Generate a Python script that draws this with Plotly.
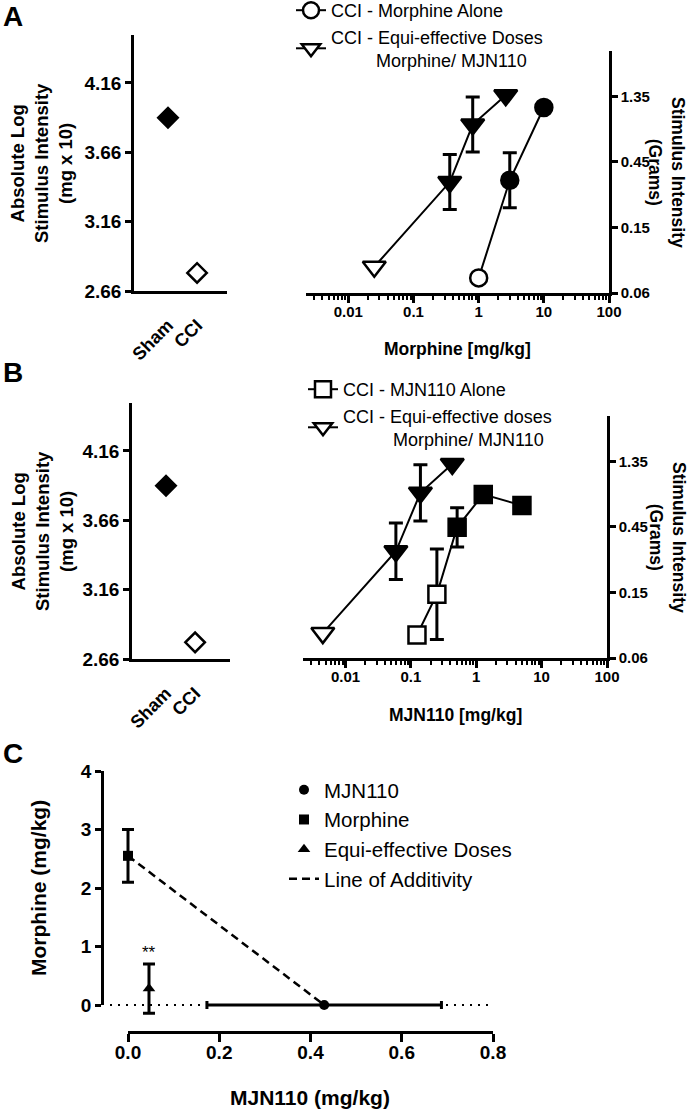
import plotly.graph_objects as go

W, H = 690, 1111

# ---------------- data ----------------
groups = ["Sham", "CCI"]
panelA_left = [3.91, 2.79]
panelB_left = [3.91, 2.78]

y_tickvals = [2.66, 3.16, 3.66, 4.16]
y_ticktext_left = ["2.66", "3.16", "3.66", "4.16"]
y_ticktext_right = ["0.06", "0.15", "0.45", "1.35"]

dose_ticks = [0.01, 0.1, 1, 10, 100]
dose_ticktext = ["0.01", "0.1", "1", "10", "100"]

A_morph_dose = [1.0, 3.0, 10.0]
A_morph_resp = [2.775, 3.52, 4.075]
A_morph_err = [None, 0.21, None]
A_morph_fill = ["white", "black", "black"]

A_equi_dose = [0.025, 0.36, 0.81, 2.6]
A_equi_resp = [2.86, 3.506, 3.945, 4.168]
A_equi_err = [None, 0.21, 0.21, None]
A_equi_fill = ["white", "black", "black", "black"]

B_mjn_dose = [0.124, 0.25, 0.51, 1.28, 5.0]
B_mjn_resp = [2.835, 3.147, 3.657, 3.908, 3.824]
B_mjn_err = [None, 0.345, 0.15, None, None]
B_mjn_fill = ["white", "white", "black", "black", "black"]

B_equi_dose = [0.0045, 0.059, 0.14, 0.43]
B_equi_resp = [2.85, 3.474, 3.92, 4.14]
B_equi_err = [None, 0.215, 0.215, None]
B_equi_fill = ["white", "black", "black", "black"]

C_mjn_x = [0.43]
C_mjn_y = [0.0]
C_mjn_xerr = [0.257]
C_morph_x = [0.0]
C_morph_y = [2.55]
C_morph_yerr = [0.45]
C_equi_x = [0.046]
C_equi_y = [0.28]
C_equi_yerr = [0.42]
C_xticks = [0.0, 0.2, 0.4, 0.6, 0.8]
C_yticks = [0, 1, 2, 3, 4]

# ---------------- helpers ----------------
FONT = "Liberation Sans, Arial, sans-serif"


def px_x(p):
    return p / W


def px_y(p):
    return 1 - p / H


def dom_x(a, b):
    return [a / W, b / W]


def dom_y(top, bottom):
    return [1 - bottom / H, 1 - top / H]


def bold(size):
    return dict(family=FONT, size=size, color="black", weight=700)


def reg(size):
    return dict(family=FONT, size=size, color="black")


AX = dict(showgrid=False, zeroline=False, showline=True, linecolor="black",
          linewidth=2.5, ticks="outside", tickcolor="black", tickwidth=2.5,
          ticklen=6)

fig = go.Figure()


def err_trace(xs, ys, errs, xa, ya, width=7):
    idx = [i for i, e in enumerate(errs) if e is not None]
    fig.add_trace(go.Scatter(
        x=[xs[i] for i in idx], y=[ys[i] for i in idx], mode="markers",
        marker=dict(size=1, color="rgba(0,0,0,0)"),
        error_y=dict(type="data", array=[errs[i] for i in idx], color="black",
                     thickness=3, width=width),
        xaxis=xa, yaxis=ya, showlegend=False, hoverinfo="skip", cliponaxis=False))


def dose_trace(xs, ys, fills, symbol, size, name, xa, ya, legend, rank):
    fig.add_trace(go.Scatter(
        x=xs, y=ys, mode="lines+markers", name=name,
        line=dict(color="black", width=2),
        marker=dict(symbol=symbol, size=size, color=fills,
                    line=dict(color="black", width=2.5)),
        xaxis=xa, yaxis=ya, legend=legend, legendrank=rank, cliponaxis=False))


# ---------------- panel A/B left (diamonds) ----------------
for vals, xa, ya in [(panelA_left, "x", "y"), (panelB_left, "x3", "y3")]:
    fig.add_trace(go.Scatter(
        x=groups, y=vals, mode="markers",
        marker=dict(symbol="diamond", size=15, color=["black", "white"],
                    line=dict(color="black", width=2.5)),
        xaxis=xa, yaxis=ya, showlegend=False, cliponaxis=False))

# ---------------- panel A right ----------------
err_trace(A_morph_dose, A_morph_resp, A_morph_err, "x2", "y2")
err_trace(A_equi_dose, A_equi_resp, A_equi_err, "x2", "y2")
dose_trace(A_morph_dose, A_morph_resp, A_morph_fill, "circle", 17,
           "CCI - Morphine Alone", "x2", "y2", "legend", 1)
dose_trace(A_equi_dose, A_equi_resp, A_equi_fill, "triangle-down", 20,
           "CCI - Equi-effective Doses<br>" + "\u00a0" * 9 + "Morphine/ MJN110",
           "x2", "y2", "legend", 2)

# ---------------- panel B right ----------------
err_trace(B_mjn_dose, B_mjn_resp, B_mjn_err, "x4", "y4")
err_trace(B_equi_dose, B_equi_resp, B_equi_err, "x4", "y4")
dose_trace(B_mjn_dose, B_mjn_resp, B_mjn_fill, "square", 17,
           "CCI - MJN110 Alone", "x4", "y4", "legend2", 1)
dose_trace(B_equi_dose, B_equi_resp, B_equi_fill, "triangle-down", 20,
           "CCI - Equi-effective doses<br>" + "\u00a0" * 10 + "Morphine/ MJN110",
           "x4", "y4", "legend2", 2)

# ---------------- panel C ----------------
fig.add_trace(go.Scatter(
    x=[C_morph_x[0], C_mjn_x[0]], y=[C_morph_y[0], C_mjn_y[0]], mode="lines",
    line=dict(color="black", width=2.5, dash="8px,5px"),
    name="Line of Additivity", xaxis="x5", yaxis="y5", legend="legend3",
    legendrank=4))
fig.add_trace(go.Scatter(
    x=C_mjn_x, y=C_mjn_y, mode="markers", name="MJN110",
    marker=dict(symbol="circle", size=10, color="black"),
    error_x=dict(type="data", array=C_mjn_xerr, color="black", thickness=3, width=4),
    xaxis="x5", yaxis="y5", legend="legend3", legendrank=1, cliponaxis=False))
fig.add_trace(go.Scatter(
    x=C_morph_x, y=C_morph_y, mode="markers", name="Morphine",
    marker=dict(symbol="square", size=10, color="black"),
    error_y=dict(type="data", array=C_morph_yerr, color="black", thickness=3, width=6),
    xaxis="x5", yaxis="y5", legend="legend3", legendrank=2, cliponaxis=False))
fig.add_trace(go.Scatter(
    x=C_equi_x, y=C_equi_y, mode="markers", name="Equi-effective Doses",
    marker=dict(symbol="triangle-up", size=11, color="black"),
    error_y=dict(type="data", array=C_equi_yerr, color="black", thickness=3, width=6),
    xaxis="x5", yaxis="y5", legend="legend3", legendrank=3, cliponaxis=False))
# display-axis anchor trace (no data)
fig.add_trace(go.Scatter(x=[None], y=[None], xaxis="x6", yaxis="y6",
                         showlegend=False, hoverinfo="skip"))

fig.add_shape(type="line", xref="x5 domain", x0=0, x1=1, yref="y5", y0=0, y1=0,
              line=dict(color="black", width=2, dash="2px,6px"), layer="below")
fig.add_annotation(x=C_equi_x[0], y=C_equi_y[0] + C_equi_yerr[0], xref="x5", yref="y5",
                   text="**", showarrow=False, yanchor="bottom", font=reg(17))

# ---------------- axes ----------------
YRANGE = [2.66, 4.506]
LOGRANGE = [-2.65, 2]
minor_vals = [m * 10.0 ** e for e in range(-3, 2) for m in range(2, 10)]

layout_axes = {}
for i, (xd, yd, xr) in enumerate([((134, 227), (35, 291), [-1.17, 2.03]),
                                  ((132, 230), (403, 659), [-1.17, 2.2])]):
    xn = "xaxis" if i == 0 else "xaxis3"
    yn = "yaxis" if i == 0 else "yaxis3"
    xa = "x" if i == 0 else "x3"
    ya = "y" if i == 0 else "y3"
    layout_axes[xn] = dict(AX, domain=dom_x(*xd), anchor=ya, type="category",
                           range=xr, ticks="", tickangle=-45, tickfont=bold(18),
                           ticklabelstandoff=14)
    layout_axes[yn] = dict(AX, domain=dom_y(*yd), anchor=xa, range=YRANGE,
                           tickvals=y_tickvals, ticktext=y_ticktext_left,
                           tickfont=bold(19))

for xn, yn, xa, ya, xd, yd in [("xaxis2", "yaxis2", "x2", "y2", (306, 609), (51, 293)),
                               ("xaxis4", "yaxis4", "x4", "y4", (303, 607), (416, 658))]:
    layout_axes[xn] = dict(AX, domain=dom_x(*xd), anchor=ya, type="log",
                           range=LOGRANGE, tickvals=dose_ticks, ticktext=dose_ticktext,
                           ticklen=7, tickfont=bold(15), ticklabelstandoff=-4,
                           minor=dict(tickmode="array", tickvals=minor_vals,
                                      ticks="outside", ticklen=4, tickwidth=1.5,
                                      tickcolor="black", showgrid=False))
    layout_axes[yn] = dict(AX, domain=dom_y(*yd), anchor=xa, side="right",
                           range=YRANGE, tickvals=y_tickvals,
                           ticktext=y_ticktext_right, tickfont=bold(15))

# panel C scales
cx0, cx8 = 128, 493      # pixel of x = 0 and x = 0.8
cy0, cy4 = 1005, 771     # pixel of y = 0 and y = 4
sx = (cx8 - cx0) / 0.8
sy = (cy0 - cy4) / 4.0
c_dx = (110, 493)
c_dy = (760, 1025)
layout_axes["xaxis5"] = dict(domain=dom_x(*c_dx), anchor="y5", visible=False,
                             range=[(c_dx[0] - cx0) / sx, (c_dx[1] - cx0) / sx])
layout_axes["yaxis5"] = dict(domain=dom_y(*c_dy), anchor="x5", visible=False,
                             range=[(cy0 - c_dy[1]) / sy, (cy0 - c_dy[0]) / sy])
layout_axes["xaxis6"] = dict(AX, domain=dom_x(cx0, cx8), anchor="free",
                             position=px_y(1032), range=[0, 0.8], tickvals=C_xticks,
                             tickformat=".1f", ticklen=8, tickfont=bold(19),
                             ticklabelstandoff=-6)
layout_axes["yaxis6"] = dict(AX, domain=dom_y(cy4, cy0), anchor="free",
                             position=px_x(102), range=[0, 4], tickvals=C_yticks,
                             ticklen=6, tickfont=bold(19))

fig.update_layout(**layout_axes)

# ---------------- titles & labels ----------------
ann = [
    dict(text="A", x=px_x(1), y=px_y(17), font=bold(28), xanchor="left"),
    dict(text="B", x=px_x(1), y=px_y(372), font=bold(28), xanchor="left"),
    dict(text="C", x=px_x(1), y=px_y(753), font=bold(28), xanchor="left"),
    dict(text="Absolute Log<br>Stimulus Intensity<br>(mg x 10)", x=px_x(42),
         y=px_y(163), textangle=-90, font=bold(18.5)),
    dict(text="Absolute Log<br>Stimulus Intensity<br>(mg x 10)", x=px_x(42),
         y=px_y(531), textangle=-90, font=bold(18.5)),
    dict(text="Stimulus Intensity<br>(Grams)", x=px_x(667), y=px_y(172),
         textangle=90, font=bold(17.5)),
    dict(text="Stimulus Intensity<br>(Grams)", x=px_x(667), y=px_y(537),
         textangle=90, font=bold(17.5)),
    dict(text="Morphine [mg/kg]", x=px_x(457), y=px_y(349), font=bold(17.5)),
    dict(text="MJN110 [mg/kg]", x=px_x(455), y=px_y(715), font=bold(17.5)),
    dict(text="MJN110 (mg/kg)", x=px_x(310), y=px_y(1097), font=bold(21)),
    dict(text="Morphine (mg/kg)", x=px_x(38), y=px_y(888), textangle=-90,
         font=bold(21)),
]
for a in ann:
    base = dict(xref="paper", yref="paper", showarrow=False, xanchor="center",
                yanchor="middle")
    base.update(a)
    fig.add_annotation(**base)

LEG = dict(bgcolor="rgba(0,0,0,0)", xanchor="left", yanchor="top",
           itemwidth=30, tracegroupgap=0, itemclick=False)
fig.update_layout(
    width=W, height=H,
    margin=dict(l=0, r=0, t=0, b=0, autoexpand=False),
    paper_bgcolor="white", plot_bgcolor="rgba(0,0,0,0)",
    font=reg(14), showlegend=True,
    legend=dict(LEG, x=px_x(291), y=px_y(-8), font=reg(18)),
    legend2=dict(LEG, x=px_x(303), y=px_y(371), font=reg(18)),
    legend3=dict(LEG, x=px_x(284), y=px_y(770), font=reg(20.5)),
)

fig.write_html("out.html", config={"displayModeBar": False},
               post_script="document.body.style.margin='0';"
                           "document.body.style.overflow='hidden';")
